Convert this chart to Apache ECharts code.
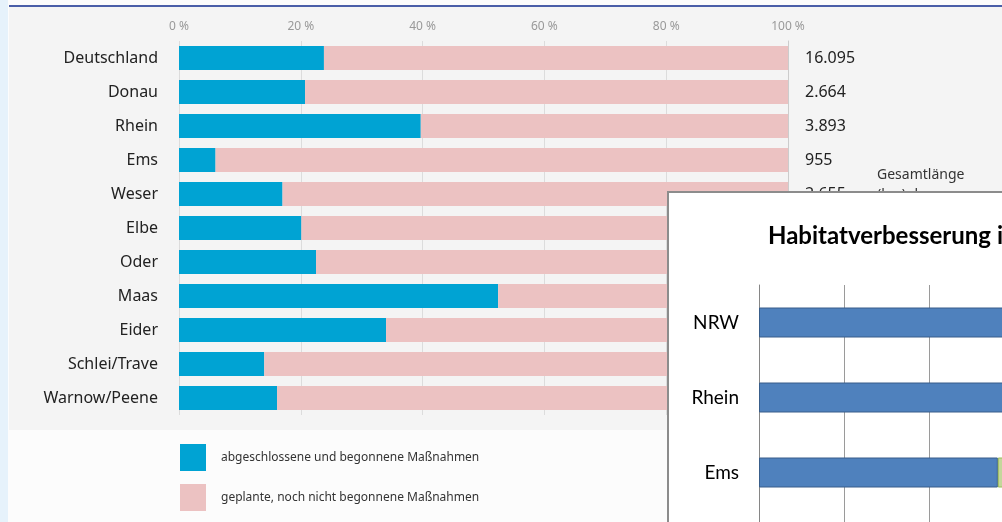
<!DOCTYPE html>
<html>
<head>
<meta charset="utf-8">
<script src="https://cdn.jsdelivr.net/npm/echarts@6/dist/echarts.min.js"></script>
<style>
    html, body { margin: 0; padding: 0; background: #fcfcfc; }
    #chart { width: 1002px; height: 522px; }
</style>
</head>
<body>
<div id="chart"></div>
<script>
// Flussgebiete, Anteil abgeschlossener/begonnener Massnahmen in %
var gebiete = ['Deutschland', 'Donau', 'Rhein', 'Ems', 'Weser', 'Elbe', 'Oder', 'Maas', 'Eider', 'Schlei/Trave', 'Warnow/Peene'];
var begonnen = [23.8, 20.7, 39.7, 6.0, 17.0, 20.1, 22.5, 52.4, 34.0, 14.0, 16.1];
// Gesamtlaenge (km), nur die sichtbaren Werte
var gesamtlaenge = ['16.095', '2.664', '3.893', '955', '2.655', '', '', '', '', '', ''];
var xTicks = [0, 20, 40, 60, 80, 100];

// eingeblendetes Diagramm (Ausschnitt)
var insetKategorien = ['NRW', 'Rhein', 'Ems', ''];
var insetBlau = [45, 42, 28.1, null];
var insetGruen = [12, 14, 18, null];

window.onload = function () {
    var geplant = begonnen.map(function (v) {
        return +(100 - v).toFixed(1);
    });

    var myChart = echarts.init(document.getElementById('chart'));

    var option = {
        backgroundColor: '#fcfcfc',
        animation: false,
        textStyle: { fontFamily: 'Noto Sans' },
        title: {
            text: 'Habitatverbesserung in NRW',
            left: 768,
            top: 224,
            padding: 0,
            z: 60,
            textStyle: {
                fontFamily: 'Lato',
                fontWeight: 'bold',
                fontSize: 24,
                color: '#000'
            }
        },
        graphic: {
            elements: [
                // linker hellblauer Rand
                { type: 'rect', z: -10, silent: true, shape: { x: 0, y: 0, width: 8, height: 522 }, style: { fill: '#e6f2fb' } },
                // grauer Hintergrund
                { type: 'rect', z: -10, silent: true, shape: { x: 9, y: 7, width: 993, height: 423 }, style: { fill: '#f4f4f4' } },
                // blaue Linie oben
                { type: 'rect', z: -9, silent: true, shape: { x: 9, y: 5, width: 993, height: 2 }, style: { fill: '#4a5ea8' } },
                {
                    type: 'text', z: 1, silent: true, left: 877, top: 165,
                    style: { text: 'Gesamtlänge\n(km) der', fill: '#333', font: '14px "Noto Sans"', lineHeight: 20 }
                },
                // weisses Fenster des eingeblendeten Diagramms
                {
                    type: 'rect', z: 50, silent: true,
                    shape: { x: 668, y: 192, width: 400, height: 400 },
                    style: { fill: '#ffffff', stroke: '#8c8c8c', lineWidth: 2 }
                }
            ]
        },
        legend: {
            data: ['abgeschlossene und begonnene Maßnahmen', 'geplante, noch nicht begonnene Maßnahmen'],
            orient: 'vertical',
            left: 180,
            top: 444,
            padding: 0,
            itemWidth: 26,
            itemHeight: 27,
            itemGap: 13,
            icon: 'rect',
            textStyle: { fontSize: 12, color: '#333', padding: [0, 0, 0, 10] }
        },
        grid: [
            { left: 179, top: 41, width: 609, height: 374, outerBoundsMode: 'none' },
            { left: 759, top: 285, width: 850, height: 300, outerBoundsMode: 'none' }
        ],
        xAxis: [
            {
                gridIndex: 0,
                type: 'value',
                position: 'top',
                min: xTicks[0],
                max: xTicks[xTicks.length - 1],
                interval: 20,
                axisLine: { show: false },
                axisTick: { show: false },
                axisLabel: { formatter: '{value} %', color: '#999', fontSize: 12, margin: 8 },
                splitLine: { lineStyle: { color: '#dcdcdc' } }
            },
            {
                gridIndex: 1,
                type: 'value',
                min: 0,
                max: 100,
                interval: 10,
                z: 51,
                axisLine: { show: false },
                axisTick: { show: false },
                axisLabel: { show: false },
                splitLine: { lineStyle: { color: '#9a9a9a' } }
            }
        ],
        yAxis: [
            {
                gridIndex: 0,
                type: 'category',
                inverse: true,
                data: gebiete,
                axisLine: { show: false },
                axisTick: { show: false },
                axisLabel: { fontSize: 16, color: '#222', margin: 21 }
            },
            {
                gridIndex: 0,
                type: 'category',
                position: 'right',
                inverse: true,
                data: gesamtlaenge,
                axisLine: { lineStyle: { color: '#cccccc' } },
                axisTick: { length: 8, lineStyle: { color: '#cccccc' } },
                axisLabel: { fontSize: 16, color: '#222', margin: 17, align: 'left' }
            },
            {
                gridIndex: 1,
                type: 'category',
                inverse: true,
                data: insetKategorien,
                z: 51,
                axisLine: { lineStyle: { color: '#868686' } },
                axisTick: { length: 6, lineStyle: { color: '#868686' } },
                axisLabel: { fontFamily: 'Lato', fontSize: 19, color: '#000', margin: 20 }
            }
        ],
        series: [
            {
                name: 'abgeschlossene und begonnene Maßnahmen',
                type: 'bar',
                stack: 'haupt',
                xAxisIndex: 0,
                yAxisIndex: 0,
                barWidth: 24,
                itemStyle: { color: '#00a3d3' },
                data: begonnen
            },
            {
                name: 'geplante, noch nicht begonnene Maßnahmen',
                type: 'bar',
                stack: 'haupt',
                xAxisIndex: 0,
                yAxisIndex: 0,
                barWidth: 24,
                itemStyle: { color: '#ecc2c2' },
                data: geplant
            },
            {
                name: 'inset1',
                type: 'bar',
                stack: 'inset',
                xAxisIndex: 1,
                yAxisIndex: 2,
                barWidth: 30,
                z: 52,
                itemStyle: { color: '#4f81bd', borderColor: '#385d8a', borderWidth: 1 },
                data: insetBlau
            },
            {
                name: 'inset2',
                type: 'bar',
                stack: 'inset',
                xAxisIndex: 1,
                yAxisIndex: 2,
                barWidth: 30,
                z: 52,
                itemStyle: { color: '#c4d79b', borderColor: '#9bbb59', borderWidth: 1 },
                data: insetGruen
            }
        ]
    };
    myChart.setOption(option);
};
</script>
</body>
</html>
